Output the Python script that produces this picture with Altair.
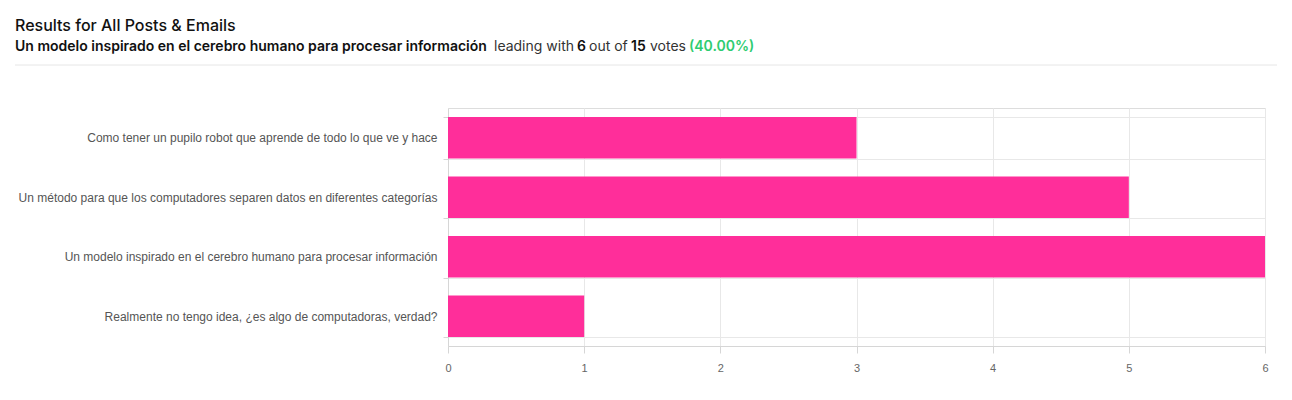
import altair as alt
import pandas as pd

# ---- data ----
categories = [
    "Como tener un pupilo robot que aprende de todo lo que ve y hace",
    "Un método para que los computadores separen datos en diferentes categorías",
    "Un modelo inspirado en el cerebro humano para procesar información",
    "Realmente no tengo idea, ¿es algo de computadoras, verdad?",
]
votes = [3, 5, 6, 1]
x_ticks = [0, 1, 2, 3, 4, 5, 6]

title_text = "Results for All Posts & Emails"
sub_bold = ["Un modelo inspirado en el cerebro humano para procesar información", "6", "15"]
sub_regular = ["leading with", "out of", "votes"]
sub_green = ["(40.00%)"]

# ---- layout constants (px, relative to plot origin) ----
PLOT_LEFT, PLOT_TOP = 448 - 8, 108 - 8
W, H = 817, 238
FONT_HEAD = "Inter"
FONT_AXIS = "Liberation Sans"

df = pd.DataFrame({"answer": categories, "votes": votes})

bars = alt.Chart(df).mark_bar(color="#FF2E9A").encode(
    x=alt.X(
        "votes:Q",
        scale=alt.Scale(domain=[0, 6], nice=False),
        axis=alt.Axis(
            values=x_ticks, title=None, grid=True, gridColor="#e8e8e8",
            domainColor="#d6d6d6", tickColor="#d6d6d6", tickSize=7,
            labelFont=FONT_AXIS, labelFontSize=11, labelColor="#666666",
            labelPadding=9, format="d", labelFlush=False,
        ),
    ),
    y=alt.Y(
        "answer:N", sort=categories,
        scale=alt.Scale(paddingInner=0.3, paddingOuter=0.15),
        axis=alt.Axis(
            title=None, grid=True, gridColor="#e8e8e8", tickBand="extent",
            domainColor="#d6d6d6", tickColor="#d6d6d6", tickSize=5,
            labelFont=FONT_AXIS, labelFontSize=12, labelColor="#555555",
            labelPadding=6, labelLimit=500,
        ),
    ),
)

def text_layer(txt, x, y, size, weight, color):
    return alt.Chart(pd.DataFrame({"t": [txt]})).mark_text(
        align="left", baseline="alphabetic", font=FONT_HEAD,
        fontSize=size, fontWeight=weight, color=color,
    ).encode(x=alt.value(x), y=alt.value(y), text="t:N")

ox = -448
title = text_layer(title_text, 15 + ox, 31 - 108, 16, 500, "#111111")
sub_y = 51 - 108
subs = [
    text_layer(sub_bold[0], 15 + ox, sub_y, 14, 600, "#111111"),
    text_layer(sub_regular[0], 494 + ox, sub_y, 14, 400, "#333333"),
    text_layer(sub_bold[1], 577 + ox, sub_y, 14, 600, "#111111"),
    text_layer(sub_regular[1], 589 + ox, sub_y, 14, 400, "#333333"),
    text_layer(sub_bold[2], 631 + ox, sub_y, 14, 600, "#111111"),
    text_layer(sub_regular[2], 650 + ox, sub_y, 14, 400, "#333333"),
    text_layer(sub_green[0], 689 + ox, sub_y, 14, 600, "#2ECC71"),
]

sep = alt.Chart(pd.DataFrame({"a": [0]})).mark_rule(color="#e6e6e6", strokeWidth=1).encode(
    x=alt.value(15 + ox), x2=alt.value(1277 + ox), y=alt.value(65 - 108)
)

chart = alt.layer(bars, title, sep, *subs).properties(
    width=W, height=H,
    autosize=alt.AutoSizeParams(type="none"),
    padding={"left": PLOT_LEFT, "top": PLOT_TOP, "right": 19, "bottom": 30},
).configure_view(strokeWidth=0).configure(background="white")

chart.save("out.html", embed_options={"renderer": "svg", "actions": False})
